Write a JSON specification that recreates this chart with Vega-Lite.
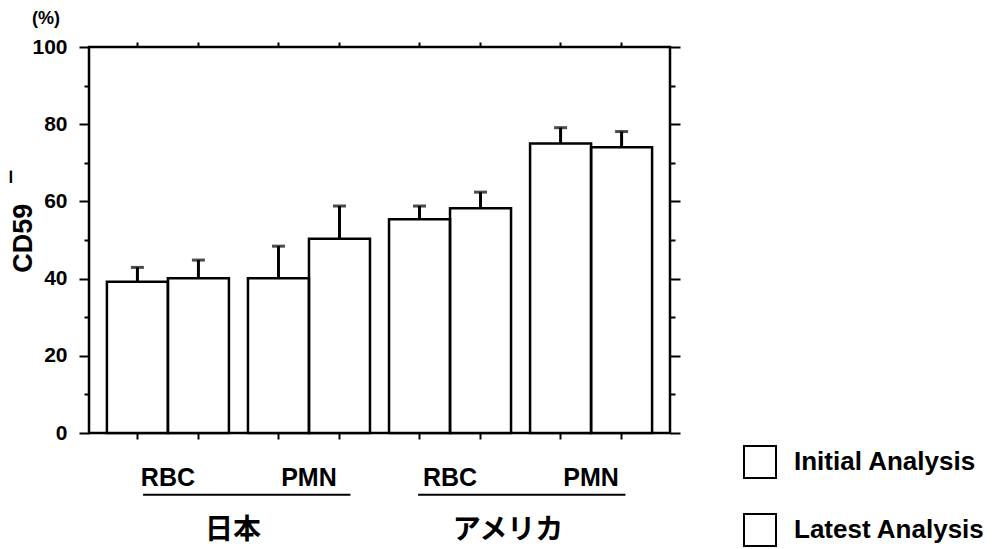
{
  "$schema": "https://vega.github.io/schema/vega-lite/v6.json",
  "width": 581,
  "height": 386,
  "autosize": "none",
  "padding": {"left": 89, "top": 47, "right": 332, "bottom": 116},
  "background": "white",
  "config": {
    "view": {"stroke": "black", "strokeWidth": 2.5},
    "font": "Liberation Sans",
    "axis": {"domain": false, "grid": false, "tickColor": "black", "tickWidth": 2, "labelColor": "black", "titleColor": "black", "labelFont": "Liberation Sans", "titleFont": "Liberation Sans"}
  },
  "title": {"text": "(%)", "anchor": "start", "frame": "group", "fontSize": 18, "fontWeight": "bold", "color": "black", "dx": -57, "offset": 8},
  "datasets": {
    "bars": [
      {"country": "日本", "cell": "日本 RBC", "analysis": "Initial Analysis", "value": 39.2, "upper": 42.9},
      {"country": "日本", "cell": "日本 RBC", "analysis": "Latest Analysis", "value": 40.1, "upper": 44.8},
      {"country": "日本", "cell": "日本 PMN", "analysis": "Initial Analysis", "value": 40.1, "upper": 48.4},
      {"country": "日本", "cell": "日本 PMN", "analysis": "Latest Analysis", "value": 50.3, "upper": 58.8},
      {"country": "アメリカ", "cell": "アメリカ RBC", "analysis": "Initial Analysis", "value": 55.4, "upper": 58.8},
      {"country": "アメリカ", "cell": "アメリカ RBC", "analysis": "Latest Analysis", "value": 58.2, "upper": 62.4},
      {"country": "アメリカ", "cell": "アメリカ PMN", "analysis": "Initial Analysis", "value": 75.0, "upper": 79.1},
      {"country": "アメリカ", "cell": "アメリカ PMN", "analysis": "Latest Analysis", "value": 74.0, "upper": 78.1}
    ],
    "groups": [
      {"country": "日本", "level": -16},
      {"country": "アメリカ", "level": -16}
    ]
  },
  "layer": [
    {
      "data": {"name": "bars"},
      "encoding": {
        "xOffset": {"field": "analysis", "type": "nominal", "scale": {"domain": ["Initial Analysis", "Latest Analysis"], "paddingInner": 0, "paddingOuter": 0}}
      },
      "layer": [
        {
          "mark": {"type": "bar", "strokeWidth": 0},
          "encoding": {
            "x": {"field": "cell", "type": "nominal", "scale": {"domain": ["日本 RBC", "日本 PMN", "アメリカ RBC", "アメリカ PMN"], "paddingInner": 0.135, "paddingOuter": 0.127},
              "axis": {"orient": "bottom", "title": null, "bandPosition": 0.25, "labelOffset": 0, "tickSize": 6, "labelPadding": 26, "labelExpr": "split(datum.label, ' ')[1]", "labelFontSize": 25, "labelFontWeight": "bold", "labelAngle": 0}},
            "y": {"field": "value", "type": "quantitative", "scale": {"domain": [0, 100], "nice": false},
              "axis": {"orient": "left", "values": [0, 10, 20, 30, 40, 50, 60, 70, 80, 90, 100], "labelExpr": "datum.value % 20 == 0 ? datum.label : ''", "tickSize": {"condition": {"test": "datum.value % 20 == 0", "value": 10}, "value": 5}, "labelFontSize": 21, "labelFontWeight": "bold", "labelPadding": 12, "title": "CD59\u00a0\u00a0\u00a0‾", "titleFontSize": 27, "titleFontWeight": "bold", "titleX": -66, "titleY": 175, "titleBaseline": "middle", "titleAngle": -90}},
            "fill": {"field": "analysis", "type": "nominal", "scale": {"domain": ["Initial Analysis", "Latest Analysis"], "range": ["white", "white"]},
              "legend": {"title": null, "orient": "none", "legendX": 654, "legendY": 398, "padding": 0, "symbolType": "square", "symbolSize": 1024, "symbolStrokeColor": "black", "symbolStrokeWidth": 2, "symbolFillColor": "white", "symbolOpacity": 1, "labelFontSize": 26, "labelFontWeight": "bold", "labelColor": "black", "labelOffset": 17, "labelLimit": 400, "rowPadding": 28}}
          }
        },
        {
          "mark": {"type": "bar", "fill": null, "fillOpacity": 0, "stroke": "black", "strokeWidth": 2.5},
          "encoding": {
            "x": {"field": "cell", "type": "nominal", "scale": {"domain": ["日本 RBC", "日本 PMN", "アメリカ RBC", "アメリカ PMN"], "paddingInner": 0.135, "paddingOuter": 0.127},
              "axis": {"orient": "bottom", "title": null, "labels": false, "bandPosition": 0.75, "tickSize": 6}},
            "y": {"field": "value", "type": "quantitative", "scale": {"domain": [0, 100], "nice": false}, "axis": null}
          }
        },
        {
          "mark": {"type": "rule", "color": "black", "strokeWidth": 3},
          "encoding": {
            "x": {"field": "cell", "type": "nominal", "scale": {"domain": ["日本 RBC", "日本 PMN", "アメリカ RBC", "アメリカ PMN"], "paddingInner": 0.135, "paddingOuter": 0.127},
              "axis": {"orient": "top", "title": null, "labels": false, "bandPosition": 0.25, "tickSize": 5}},
            "y": {"field": "value", "type": "quantitative", "scale": {"domain": [0, 100], "nice": false}, "axis": null},
            "y2": {"field": "upper"}
          }
        },
        {
          "mark": {"type": "tick", "color": "black", "orient": "horizontal", "size": 13, "thickness": 3},
          "encoding": {
            "x": {"field": "cell", "type": "nominal", "scale": {"domain": ["日本 RBC", "日本 PMN", "アメリカ RBC", "アメリカ PMN"], "paddingInner": 0.135, "paddingOuter": 0.127},
              "axis": {"orient": "top", "title": null, "labels": false, "bandPosition": 0.75, "tickSize": 5}},
            "y": {"field": "upper", "type": "quantitative", "scale": {"domain": [0, 100], "nice": false}, "axis": null}
          }
        }
      ],
      "resolve": {"axis": {"x": "independent", "y": "independent"}}
    },
    {
      "data": {"name": "groups"},
      "mark": {"type": "rule", "color": "black", "strokeWidth": 2},
      "encoding": {
        "x": {"field": "country", "type": "nominal", "bandPosition": 0.173, "scale": {"domain": ["日本", "アメリカ"], "paddingInner": 0, "paddingOuter": 0.0564, "align": 0.21},
          "axis": {"orient": "bottom", "title": null, "offset": 83, "ticks": false, "tickSize": 0, "labelPadding": 0, "labelFont": "Noto Sans CJK JP", "labelFontSize": 28, "labelFontWeight": "bold", "labelAngle": 0}},
        "x2": {"field": "country", "bandPosition": 0.927},
        "y": {"field": "level", "type": "quantitative", "scale": {"domain": [0, 100], "nice": false},
          "axis": {"orient": "right", "title": null, "labels": false, "values": [0, 10, 20, 30, 40, 50, 60, 70, 80, 90, 100], "tickSize": {"condition": {"test": "datum.value % 20 == 0", "value": 10}, "value": 5}}}
      }
    }
  ],
  "resolve": {"scale": {"x": "independent"}, "axis": {"x": "independent", "y": "independent"}}
}
